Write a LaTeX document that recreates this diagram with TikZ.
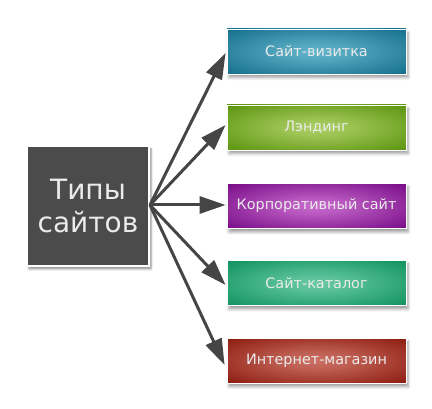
\documentclass[tikz,border=0pt]{standalone}
\usepackage{fontspec}
\setmainfont{DejaVu Sans}
\usetikzlibrary{arrows.meta,shadows.blur,calc}
\definecolor{arr}{HTML}{454545}
\definecolor{dark}{HTML}{4B4B4B}
\definecolor{bOa}{HTML}{17718F}\definecolor{bIa}{HTML}{62B4CA}
\definecolor{bOb}{HTML}{5E9612}\definecolor{bIb}{HTML}{ACCF64}
\definecolor{bOc}{HTML}{7B0F8A}\definecolor{bIc}{HTML}{C76ACC}
\definecolor{bOd}{HTML}{139460}\definecolor{bId}{HTML}{68CAA5}
\definecolor{bOe}{HTML}{8F1E12}\definecolor{bIe}{HTML}{CC7064}
\pgfdeclareradialshading{shA}{\pgfpoint{0bp}{0bp}}{color(0bp)=(bIa); color(9bp)=(bIa!80!bOa); color(34bp)=(bOa); color(50bp)=(bOa)}
\pgfdeclareradialshading{shB}{\pgfpoint{0bp}{0bp}}{color(0bp)=(bIb); color(9bp)=(bIb!80!bOb); color(34bp)=(bOb); color(50bp)=(bOb)}
\pgfdeclareradialshading{shC}{\pgfpoint{0bp}{0bp}}{color(0bp)=(bIc); color(9bp)=(bIc!80!bOc); color(34bp)=(bOc); color(50bp)=(bOc)}
\pgfdeclareradialshading{shD}{\pgfpoint{0bp}{0bp}}{color(0bp)=(bId); color(9bp)=(bId!80!bOd); color(34bp)=(bOd); color(50bp)=(bOd)}
\pgfdeclareradialshading{shE}{\pgfpoint{0bp}{0bp}}{color(0bp)=(bIe); color(9bp)=(bIe!80!bOe); color(34bp)=(bOe); color(50bp)=(bOe)}
\tikzset{
  mainbox/.style={draw=white, line width=1.2pt, fill=dark, minimum width=122pt, minimum height=120pt,
    text=white!92!black, align=center, font=\fontsize{28}{33}\selectfont,
    blur shadow={shadow xshift=2pt, shadow yshift=-3pt, shadow blur steps=6, shadow opacity=45}},
  typebox/.style={draw=white, line width=0.8pt, minimum width=179pt, minimum height=45pt,
    text=white!92!black, font=\fontsize{14.4}{17}\selectfont,
    blur shadow={shadow xshift=2pt, shadow yshift=-3.5pt, shadow blur steps=5, shadow blur radius=3pt, shadow opacity=40}},
  link/.style={arr, line width=3pt, -{Triangle[length=26pt,width=17pt]}}
}
\begin{document}
\begin{tikzpicture}[x=1pt,y=1pt]
\useasboundingbox (0,0) rectangle (432,408);
\node[mainbox] (m) at (88,202) {Типы\\сайтов};
\node[typebox, shading=shA] (b1) at (316.5,356.5) {Сайт-визитка};
\node[typebox, shading=shB] (b2) at (316.5,280.5) {Лэндинг};
\node[typebox, shading=shC] (b3) at (316.5,202) {Корпоративный сайт};
\node[typebox, shading=shD] (b4) at (316.5,125) {Сайт-каталог};
\node[typebox, shading=shE] (b5) at (316.5,47.5) {Интернет-магазин};
\coordinate (s) at (150,203);
\draw[link] (s) -- ($(b1.west)+(-1,-1.5)$);
\draw[link] (s) -- ($(b2.west)+(-1,2.5)$);
\draw[link] (s) -- ($(b3.west)+(-1,1)$);
\draw[link] (s) -- ($(b4.west)+(-1,-2)$);
\draw[link] (s) -- ($(b5.west)+(-2,-4.5)$);
\end{tikzpicture}
\end{document}
